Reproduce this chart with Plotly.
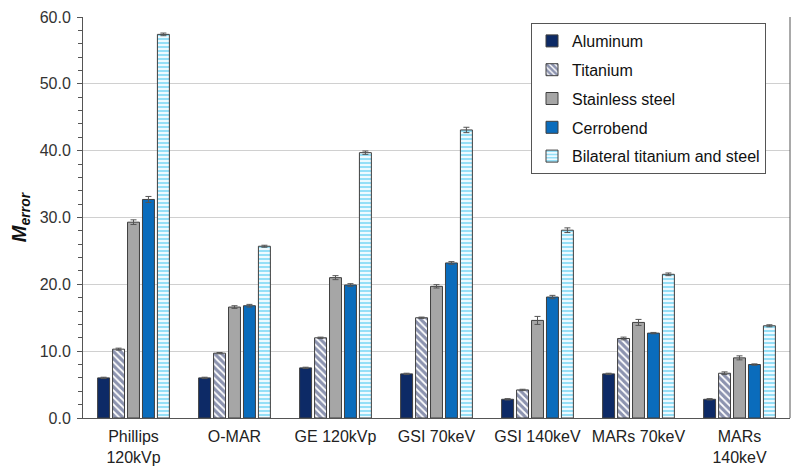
import plotly.graph_objects as go

categories = ["Phillips<br>120kVp", "O-MAR", "GE 120kVp", "GSI 70keV", "GSI 140keV", "MARs 70keV", "MARs<br>140keV"]
series_names = ["Aluminum", "Titanium", "Stainless steel", "Cerrobend", "Bilateral titanium and steel"]

aluminum = [6.0, 6.0, 7.5, 6.6, 2.8, 6.6, 2.8]
titanium = [10.3, 9.7, 12.0, 15.0, 4.2, 11.9, 6.7]
stainless = [29.3, 16.6, 21.0, 19.7, 14.6, 14.3, 9.0]
cerrobend = [32.7, 16.8, 19.9, 23.2, 18.1, 12.7, 8.0]
bilateral = [57.4, 25.7, 39.7, 43.1, 28.1, 21.5, 13.8]

err_aluminum = [0.1, 0.1, 0.1, 0.1, 0.1, 0.1, 0.1]
err_titanium = [0.15, 0.1, 0.1, 0.1, 0.1, 0.2, 0.2]
err_stainless = [0.35, 0.2, 0.3, 0.25, 0.6, 0.45, 0.3]
err_cerrobend = [0.45, 0.2, 0.2, 0.2, 0.25, 0.1, 0.1]
err_bilateral = [0.2, 0.15, 0.25, 0.4, 0.35, 0.2, 0.15]

values = [aluminum, titanium, stainless, cerrobend, bilateral]
errors = [err_aluminum, err_titanium, err_stainless, err_cerrobend, err_bilateral]

outline = "#3f3f3f"
styles = [
    dict(color="#0d2a66"),
    dict(color="white", pattern=dict(shape="\\", fgcolor="#1a2860", bgcolor="white", size=5, solidity=0.65)),
    dict(color="#a6a6a6"),
    dict(color="#0a6cbc"),
    dict(color="white", pattern=dict(shape="-", fgcolor="#3cc4f0", bgcolor="#eefaff", size=4, solidity=0.5)),
]

fig = go.Figure()
for i, (name, v, e, st) in enumerate(zip(series_names, values, errors, styles)):
    fig.add_trace(go.Bar(
        x=categories, y=v, name=name, legendgroup=f"g{i}",
        marker=dict(line=dict(color=outline, width=1), **st),
        error_y=dict(type="data", array=e, visible=True, color="#555555", thickness=1, width=3),
    ))

# page has an 8px body margin; figure sized to fit the 800x472 window
W, H = 784, 464
L, R, T, B = 75, 2, 9, 54
fig.update_layout(
    width=W, height=H,
    margin=dict(l=L, r=R, t=T, b=B),
    plot_bgcolor="white", paper_bgcolor="white",
    barmode="group", bargap=0.26, bargroupgap=0.2,
    font=dict(family="Liberation Sans, Arial, sans-serif", size=16, color="#222222"),
    showlegend=True,
    legend=dict(
        x=(523 - L) / (W - L - R), y=(H - B - 15) / (H - T - B), xanchor="left", yanchor="top",
        bordercolor="#555555", borderwidth=1, bgcolor="white",
        font=dict(size=16, color="#111111"),
        itemwidth=30, tracegroupgap=5,
    ),
    yaxis=dict(
        range=[0, 60], dtick=10, tickformat=".1f", automargin=False,
        showgrid=True, gridcolor="#d0d0d0", gridwidth=1,
        showline=True, linecolor="#555555", linewidth=1,
        ticks="outside", ticklen=5, tickcolor="#555555", ticklabelstandoff=3,
        ticklabeloverflow="allow",
        minor=dict(dtick=2, ticks="outside", ticklen=4, tickcolor="#555555", showgrid=False),
        tickfont=dict(size=16, color="#333333"),
        title=dict(text="<b><i>M<sub>error</sub></i></b>", font=dict(size=20, color="#111111"), standoff=12),
        zeroline=False,
    ),
    xaxis=dict(
        showline=True, linecolor="#555555", linewidth=1, automargin=False,
        tickfont=dict(size=16, color="#222222"),
        ticks="", ticklabelstandoff=4,
    ),
)
fig.add_shape(type="line", xref="paper", yref="paper", x0=1, x1=1, y0=0, y1=1,
              line=dict(color="#555555", width=1))

fig.write_html("out.html")
